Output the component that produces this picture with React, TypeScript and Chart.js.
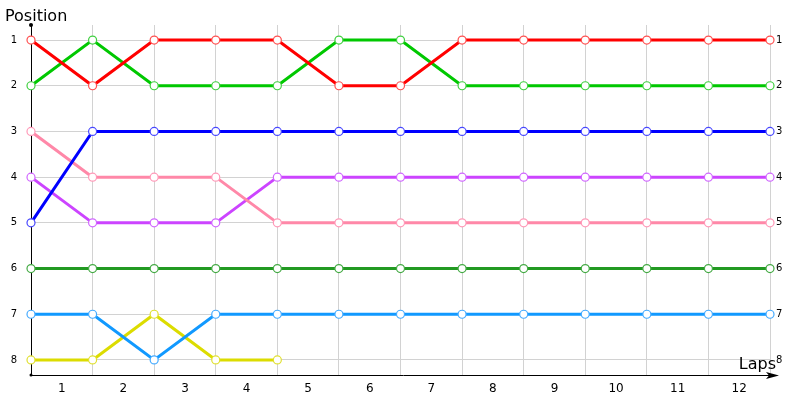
import { useEffect, useRef } from "react"
import { Chart, registerables } from "chart.js"

Chart.register(...registerables)

// lap 0 = start grid
const laps = [0, 1, 2, 3, 4, 5, 6, 7, 8, 9, 10, 11, 12]
const lapLabels = ["1", "2", "3", "4", "5", "6", "7", "8", "9", "10", "11", "12"]
const positionTicks = [1, 2, 3, 4, 5, 6, 7, 8]

const redPos = [1, 2, 1, 1, 1, 2, 2, 1, 1, 1, 1, 1, 1]
const greenPos = [2, 1, 2, 2, 2, 1, 1, 2, 2, 2, 2, 2, 2]
const bluePos = [5, 3, 3, 3, 3, 3, 3, 3, 3, 3, 3, 3, 3]
const pinkPos = [3, 4, 4, 4, 5, 5, 5, 5, 5, 5, 5, 5, 5]
const purplePos = [4, 5, 5, 5, 4, 4, 4, 4, 4, 4, 4, 4, 4]
const darkGreenPos = [6, 6, 6, 6, 6, 6, 6, 6, 6, 6, 6, 6, 6]
const lightBluePos = [7, 7, 8, 7, 7, 7, 7, 7, 7, 7, 7, 7, 7]
const yellowPos = [8, 8, 7, 8, 8]

const series = [
  { name: "Red", color: "#ff0000", marker: "#ff5050", data: redPos },
  { name: "Green", color: "#00c800", marker: "#40d040", data: greenPos },
  { name: "Blue", color: "#0000ff", marker: "#4848ff", data: bluePos },
  { name: "Pink", color: "#ff88a8", marker: "#ff99b8", data: pinkPos },
  { name: "Purple", color: "#cc44ff", marker: "#d066ff", data: purplePos },
  { name: "Dark green", color: "#229a22", marker: "#44aa44", data: darkGreenPos },
  { name: "Light blue", color: "#1199ff", marker: "#44aaff", data: lightBluePos },
  { name: "Yellow", color: "#dcdc00", marker: "#e0e030", data: yellowPos },
]

const decorPlugin = {
  id: "decor",
  afterDraw(chart: Chart) {
    const { ctx, chartArea } = chart
    const { left, top, right, bottom } = chartArea
    ctx.save()
    ctx.fillStyle = "#000"
    ctx.strokeStyle = "#000"
    ctx.lineWidth = 1
    // x axis extension + arrow
    ctx.beginPath()
    ctx.moveTo(left, bottom + 0.5)
    ctx.lineTo(right + 6, bottom + 0.5)
    ctx.stroke()
    ctx.beginPath()
    ctx.moveTo(right + 9, bottom + 0.5)
    ctx.lineTo(right - 4, bottom - 3)
    ctx.lineTo(right - 1, bottom + 0.5)
    ctx.lineTo(right - 4, bottom + 4)
    ctx.closePath()
    ctx.fill()
    // dots at axis ends
    ctx.beginPath()
    ctx.arc(left, top, 2, 0, Math.PI * 2)
    ctx.fill()
    ctx.beginPath()
    ctx.arc(left, bottom, 1.5, 0, Math.PI * 2)
    ctx.fill()
    // titles
    ctx.font = "16px 'DejaVu Sans'"
    ctx.textBaseline = "alphabetic"
    ctx.textAlign = "left"
    ctx.fillText("Position", 5, 21)
    ctx.textAlign = "right"
    ctx.fillText("Laps", right + 6, bottom - 6)
    ctx.restore()
  },
}

export default function App() {
  const chartRef = useRef<HTMLCanvasElement>(null)
  const chartInstance = useRef<Chart | null>(null)

  useEffect(() => {
    if (!chartRef.current) return
    if (chartInstance.current) chartInstance.current.destroy()

    const ctx = chartRef.current.getContext("2d")
    if (!ctx) return

    const datasets = series.map((s) => ({
      label: s.name,
      data: s.data.map((p, i) => ({ x: laps[i], y: p })),
      borderColor: s.color,
      backgroundColor: s.color,
      borderWidth: 3,
      pointRadius: 4,
      pointBorderWidth: 1.2,
      pointBackgroundColor: "#ffffff",
      pointBorderColor: s.marker,
      tension: 0,
      clip: false as const,
    }))

    const yTickFont = { family: "'DejaVu Sans'", size: 10 }

    chartInstance.current = new Chart(ctx, {
      type: "line",
      data: { datasets },
      plugins: [decorPlugin],
      options: {
        animation: false,
        responsive: false,
        layout: { padding: { top: 25, right: 0, bottom: 0, left: 0 } },
        plugins: {
          legend: { display: false },
          tooltip: { enabled: false },
        },
        scales: {
          x: {
            type: "linear",
            min: 0,
            max: 12,
            afterBuildTicks: (axis) => {
              axis.ticks = laps.map((v) => ({ value: v }))
            },
            afterFit: (axis) => {
              axis.height = 25
            },
            ticks: {
              labelOffset: 30.8,
              padding: 7,
              color: "#000",
              font: { family: "'DejaVu Sans'", size: 12 },
              maxRotation: 0,
              autoSkip: false,
              callback: (v) => lapLabels[Number(v)] ?? "",
            },
            grid: { color: "#d2d2d2", drawTicks: false },
            border: { display: false },
          },
          y: {
            type: "linear",
            position: "left",
            reverse: true,
            min: 0.67,
            max: 8.33,
            afterBuildTicks: (axis) => {
              axis.ticks = positionTicks.map((v) => ({ value: v }))
            },
            afterFit: (axis) => {
              axis.width = 31
            },
            ticks: { color: "#000", font: yTickFont, padding: 14 },
            grid: { color: "#d2d2d2", drawTicks: false },
            border: { display: true, color: "#000", width: 1 },
          },
          y2: {
            type: "linear",
            position: "right",
            reverse: true,
            min: 0.67,
            max: 8.33,
            afterBuildTicks: (axis) => {
              axis.ticks = positionTicks.map((v) => ({ value: v }))
            },
            afterFit: (axis) => {
              axis.width = 30
            },
            ticks: { color: "#000", font: yTickFont, padding: 6 },
            grid: { display: false, drawTicks: false },
            border: { display: false },
          },
        },
      },
    })

    return () => {
      if (chartInstance.current) {
        chartInstance.current.destroy()
        chartInstance.current = null
      }
    }
  }, [])

  return (
    <div style={{ position: "fixed", left: 0, top: 0, width: 800, height: 400, background: "#fff" }}>
      <canvas ref={chartRef} width={800} height={400} style={{ width: 800, height: 400 }} />
    </div>
  )
}
